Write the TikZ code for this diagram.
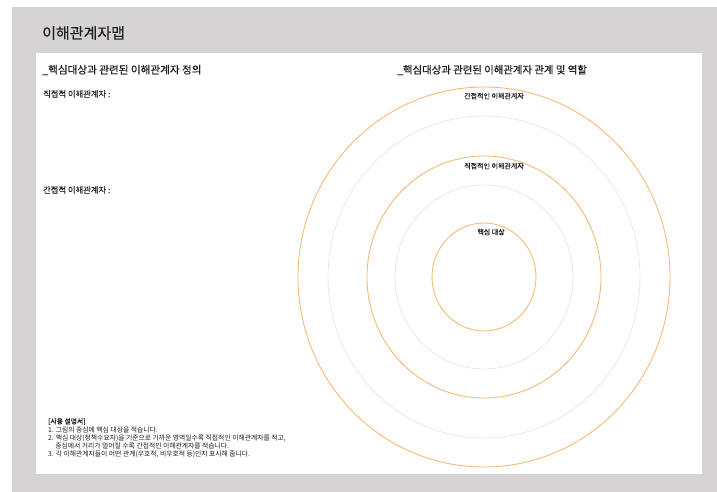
\documentclass[tikz,border=0pt]{standalone}
\usepackage{fontspec}
\setmainfont{Noto Sans CJK KR}
\newfontfamily\krmed{Noto Sans CJK KR}[FakeBold=0.4]
\newfontfamily\krlit{Noto Sans CJK KR}[FakeBold=0.12]
\definecolor{bggray}{HTML}{D5D3D4}
\definecolor{ringorange}{HTML}{F4B46A}
\definecolor{ringgray}{HTML}{E6E6E6}
\definecolor{txt}{HTML}{1E1E1E}
\begin{document}
\begin{tikzpicture}[x=1pt,y=1pt,
  lbl/.style={inner sep=0pt,anchor=west,text=txt},
  clbl/.style={inner sep=0pt,anchor=center,text=txt,font=\krlit\fontsize{7}{8}\selectfont},
  ringo/.style={draw=ringorange,line width=0.8pt},
  ringg/.style={draw=ringgray,line width=0.7pt}]
\useasboundingbox (0,0) rectangle (717,492);
\fill[white] (0,0) rectangle (717,492);
\fill[bggray] (12,0) rectangle (717,485);
\fill[white] (36,18) rectangle (702,439);
% title and headers
\node[lbl,font=\krmed\fontsize{15}{17}\selectfont] (title) at (42,459) {이해관계자맵};
\node[lbl,font=\krmed\fontsize{10.6}{12}\selectfont] (hleft) at (42,422) {\_핵심대상과 관련된 이해관계자 정의};
\node[lbl,font=\krlit\fontsize{8.3}{10}\selectfont] (direct) at (43,398) {직접적 이해관계자 :};
\node[lbl,font=\krlit\fontsize{8.3}{10}\selectfont] (indirect) at (43,302) {간접적 이해관계자 :};
\node[lbl,font=\krmed\fontsize{10.4}{12}\selectfont] (hright) at (397,422) {\_핵심대상과 관련된 이해관계자 관계 및 역할};
% rings
\coordinate (c) at (484,215);
\draw[ringo] (c) ellipse [x radius=186, y radius=190];
\draw[ringg] (c) ellipse [x radius=156, y radius=161];
\draw[ringo] (c) ellipse [x radius=117, y radius=121];
\draw[ringg] (c) ellipse [x radius=89, y radius=92];
\draw[ringo] (c) ellipse [x radius=52, y radius=54];
\node[clbl] (l1) at (494,396) {간접적인 이해관계자};
\node[clbl] (l2) at (494,326) {직접적인 이해관계자};
\node[clbl] (l3) at (491,260) {핵심 대상};
% instructions
\node[inner sep=0pt,anchor=north west,text=txt,align=left,font=\fontsize{6.8}{8.2}\selectfont] (howto) at (48,74)
{{\krmed [사용 설명서]}\\
1. 그림의 중심에 핵심 대상을 적습니다.\\
2. 핵심 대상(정책수요자)을 기준으로 가까운 영역일수록 직접적인 이해관계자를 적고,\\
\hspace*{1.05em}중심에서 거리가 멀어질 수록 간접적인 이해관계자를 적습니다.\\
3. 각 이해관계자들이 어떤 관계(우호적, 비우호적 등)인지 표시해 줍니다.};
\end{tikzpicture}
\end{document}
